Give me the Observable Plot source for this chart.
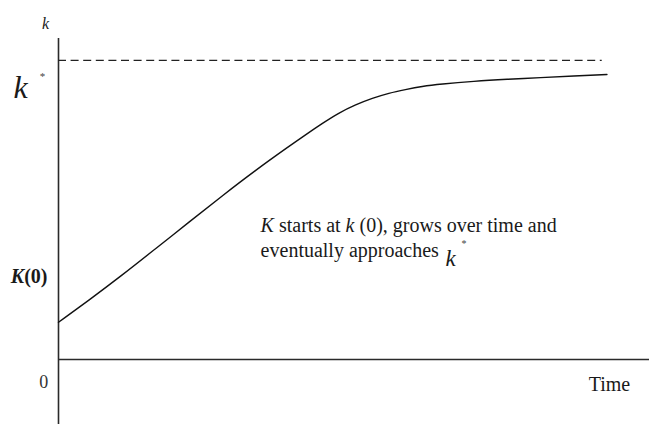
<!DOCTYPE html>
<html>
<head>
<meta charset="utf-8">
<script src="https://cdn.jsdelivr.net/npm/d3@7"></script>
<script src="https://cdn.jsdelivr.net/npm/@observablehq/plot@0.6"></script>
<style>
  body { margin: 0; background: #fff; }
  svg { display: block; }
</style>
</head>
<body>
<div id="chart"></div>
<script>
// Capital per worker along the transition path (time in arbitrary units)
const time    = [0, 5.1, 10.8, 16.4, 22.1, 27.7, 33.3, 39.0, 41.8, 44.6, 47.4, 50.3, 53.1, 55.9, 58.7, 61.5, 64.6, 70.3, 75.9, 81.6, 87.2, 92.8];
const capital = [11.6, 18.4, 26.3, 34.5, 42.8, 51.0, 58.9, 66.4, 70.0, 73.5, 76.8, 79.4, 81.4, 83.0, 84.1, 85.1, 85.8, 86.7, 87.3, 87.8, 88.3, 88.8];

// Steady-state level k* and where its guide line stops
const steadyState = 93.2;
const steadyEnd = 92.0;

// Axis extents
const timeMax = 100;
const capitalMin = -20.3;
const capitalMax = 100;

// Label texts
const annotationLines = ["K starts at k (0), grows over time and", "eventually approaches"];
const xLabel = "Time";
const originLabel = "0";
const yLabel = "k";
const k0Label = "K(0)";

const path = time.map((t, i) => ({t, k: capital[i]}));

const serif = "Liberation Serif";
const ink = "#1a1a1a";

function label(text, x, y, opts) {
  return Plot.text([text], {x, y, text: d => d, lineAnchor: "bottom", fontFamily: serif, fill: ink, ...opts});
}

const chart = Plot.plot({
  width: 649,
  height: 424,
  marginLeft: 58,
  marginRight: 0,
  marginTop: 38,
  marginBottom: 65,
  x: {domain: [0, timeMax], axis: null},
  y: {domain: [0, capitalMax], axis: null},
  style: {background: "#fff", fontFamily: serif, color: ink},
  marks: [
    // axes
    Plot.ruleX([0], {y1: capitalMin, y2: capitalMax, stroke: "#2a2a2a", strokeWidth: 1.6}),
    Plot.ruleY([0], {x1: 0, x2: timeMax, stroke: "#2a2a2a", strokeWidth: 1.6}),
    // steady state guide
    Plot.ruleY([steadyState], {x1: 0, x2: steadyEnd, stroke: "#222", strokeWidth: 1.2, strokeDasharray: "8,4.6"}),
    // capital path
    Plot.line(path, {x: "t", y: "k", curve: "basis", stroke: "#111", strokeWidth: 1.4}),

    // axis labels
    label(yLabel, -2.2, 103.1, {textAnchor: "middle", fontSize: 16, fontStyle: "italic"}),
    label(yLabel, -7.6, 81.6, {textAnchor: "start", fontSize: 32, fontStyle: "italic"}),
    label("*", -2.7, 88.2, {textAnchor: "middle", lineAnchor: "middle", fontSize: 11, fill: "#444"}),
    label(k0Label, -1.86, 23.7, {textAnchor: "end", fontSize: 20, fontWeight: "bold"}),
    label(originLabel, -2.5, -9.0, {textAnchor: "middle", fontSize: 18, fill: "#333"}),
    label(xLabel, 89.7, -9.7, {textAnchor: "start", fontSize: 20}),

    // annotation
    label(annotationLines[0], 34.2, 39.6, {textAnchor: "start", fontSize: 20}),
    label(annotationLines[1], 34.2, 31.8, {textAnchor: "start", fontSize: 20}),
    label(yLabel, 65.5, 29.0, {textAnchor: "start", fontSize: 23, fontStyle: "italic"}),
    label("*", 68.6, 36.0, {textAnchor: "middle", lineAnchor: "middle", fontSize: 10, fill: "#444"})
  ]
});

// Mixed roman / italic runs inside single labels
function styleRuns(svg, plain, runs) {
  d3.select(svg).selectAll("text").filter(function() { return this.textContent === plain; })
    .each(function() {
      const el = d3.select(this);
      el.text(null);
      for (const r of runs) {
        const ts = el.append("tspan").text(r.t);
        if (r.italic) ts.attr("font-style", "italic");
      }
    });
}
styleRuns(chart, annotationLines[0], [
  {t: "K", italic: true}, {t: " starts at "}, {t: "k", italic: true}, {t: " (0), grows over time and"}
]);
styleRuns(chart, k0Label, [{t: "K", italic: true}, {t: "(0)"}]);

document.getElementById("chart").appendChild(chart);
</script>
</body>
</html>
